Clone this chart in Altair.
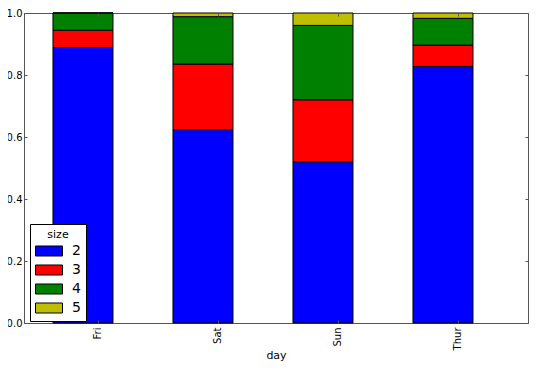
import altair as alt
import pandas as pd

days = ["Fri", "Sat", "Sun", "Thur"]
sizes = ["2", "3", "4", "5"]
share_2 = [0.8889, 0.6235, 0.5200, 0.8276]
share_3 = [0.0556, 0.2118, 0.2000, 0.0690]
share_4 = [0.0556, 0.1529, 0.2400, 0.0862]
share_5 = [0.0, 0.0118, 0.0400, 0.0172]
colors = ["#0000ff", "#ff0000", "#008000", "#bfbf00"]
y_ticks = [0.0, 0.2, 0.4, 0.6, 0.8, 1.0]

rows = []
for i, d in enumerate(days):
    for s, vals in zip(sizes, [share_2, share_3, share_4, share_5]):
        rows.append({"day": d, "size": s, "frac": vals[i], "order": int(s)})
df = pd.DataFrame(rows)

W, H = 504, 310
xscale = alt.Scale(paddingInner=0.5, paddingOuter=0.35, align=0.345)
yscale = alt.Scale(domain=[0, 1], nice=False, zero=True)

bars = alt.Chart(df).mark_bar(stroke="black", strokeWidth=1).encode(
    x=alt.X("day:N", sort=days, scale=xscale,
            axis=alt.Axis(title="day", labelAngle=270, ticks=False, domain=False, grid=False,
                          labelFontSize=10, titleFontSize=11, titleFontWeight="normal",
                          tickOffset=15, labelPadding=4, labelAlign="right",
                          labelBaseline="middle", titlePadding=0, labelColor="black",
                          titleColor="black", zindex=1)),
    y=alt.Y("frac:Q", stack="zero", scale=yscale,
            axis=alt.Axis(title=None, values=y_ticks, format=".1f", ticks=False, grid=False,
                          domain=False, labelFontSize=10, labelPadding=2,
                          labelColor="black", zindex=1)),
    color=alt.Color("size:N", scale=alt.Scale(domain=sizes, range=colors),
                    legend=alt.Legend(title="size", orient="none", legendX=6, legendY=211,
                                      fillColor="white", strokeColor="black", padding=5,
                                      titleFontSize=11, titleFontWeight="normal",
                                      titleAnchor="middle", labelFontSize=14,
                                      symbolType="M-1,-0.667H2.6V0.667H-1Z", symbolSize=225,
                                      symbolStrokeColor="black", symbolStrokeWidth=1,
                                      symbolOpacity=1, labelOffset=21, rowPadding=3,
                                      titlePadding=3, cornerRadius=0,
                                      labelColor="black", titleColor="black")),
    order=alt.Order("order:Q", sort="ascending"),
)


def tick_layer(xorient, yorient):
    return alt.Chart(df).mark_point(opacity=0).encode(
        x=alt.X("day:N", sort=days, scale=xscale,
                axis=alt.Axis(orient=xorient, offset=-H, labels=False, title=None, grid=False,
                              domain=False, ticks=True, tickSize=3, tickColor="#555",
                              tickOffset=15, zindex=1)),
        y=alt.Y("frac:Q", scale=yscale,
                axis=alt.Axis(orient=yorient, offset=-W, labels=False, title=None, grid=False,
                              domain=False, ticks=True, tickSize=3, values=y_ticks,
                              tickColor="#555", zindex=1)),
    )


chart = alt.layer(bars, tick_layer("top", "right"), tick_layer("bottom", "left")).resolve_axis(
    x="independent", y="independent"
).properties(
    width=W, height=H,
    padding={"left": 16, "top": 5, "right": 1, "bottom": 40},
    autosize="none",
).configure(font="DejaVu Sans").configure_view(stroke="#555", strokeWidth=1)

chart.save("out.html", embed_options={"renderer": "svg", "actions": False})
